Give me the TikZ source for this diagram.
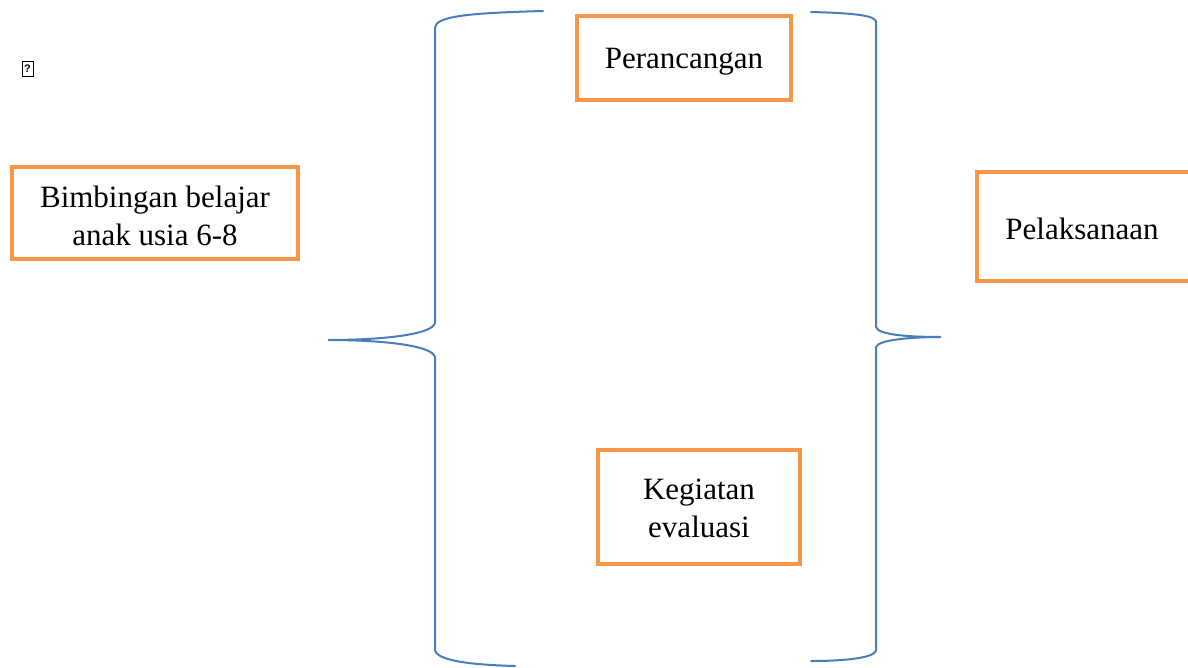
\documentclass[tikz,border=0pt]{standalone}
\usepackage{fontspec}
\setmainfont{Liberation Serif}
\newfontfamily\glyphfont{Liberation Sans}
\definecolor{boxorange}{HTML}{F79646}
\definecolor{braceblue}{HTML}{4A7EBB}
\begin{document}
\begin{tikzpicture}[x=1pt,y=-1pt,
  obox/.style={draw=boxorange, line width=4pt, inner sep=0pt},
  otext/.style={align=center, font=\fontsize{31}{38}\selectfont, text=black, inner sep=0pt},
  bline/.style={draw=braceblue, line width=2pt, line cap=round}]
\useasboundingbox[fill=white] (0,0) rectangle (1188,667);
% missing glyph
\node[draw, line width=1pt, inner sep=0pt, minimum width=11pt, minimum height=15pt,
  font=\glyphfont\bfseries\fontsize{11}{12}\selectfont] (glyph) at (27.5,69) {?};
% boxes
\node[obox, minimum width=214pt, minimum height=84pt,
  label={[otext, yshift=-4pt]center:Perancangan}] (per) at (684,58) {};
\node[obox, minimum width=286pt, minimum height=92pt,
  label={[otext, yshift=-3pt]center:{Bimbingan belajar\\anak usia 6-8}}] (bim) at (155,213) {};
\node[obox, minimum width=220pt, minimum height=109pt, anchor=west] (pel) at (975,226.5) {};
\node[otext] (peltext) at (1082,229) {Pelaksanaan};
\node[obox, minimum width=202pt, minimum height=114pt,
  label={[otext, yshift=-1pt]center:{Kegiatan\\evaluasi}}] (keg) at (699,507) {};
% left brace
\draw[bline] (543,11) .. controls (470,13) and (435,16) .. (435,28)
  -- (435,323) .. controls (432,335) and (380,340) .. (328,340)
  .. controls (380,340) and (432,345) .. (435,357)
  -- (435,650) .. controls (437,662) and (480,665) .. (515,666);
% right brace
\draw[bline] (811,12) .. controls (850,13) and (876,15) .. (876,22)
  -- (876,327) .. controls (878,335) and (910,337) .. (941,337)
  .. controls (910,337) and (878,340) .. (876,347)
  -- (876,650) .. controls (876,657) and (850,661) .. (811,661);
\end{tikzpicture}
\end{document}
